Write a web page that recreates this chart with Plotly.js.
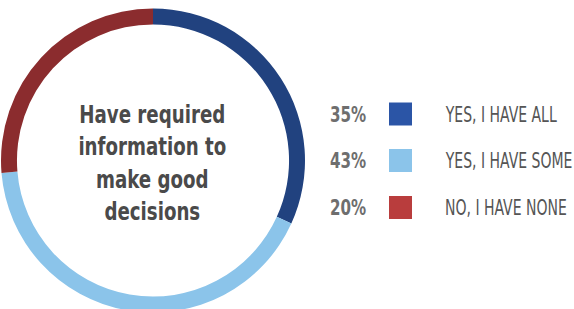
<!DOCTYPE html>
<html>
<head>
<meta charset="utf-8">
<script src="https://cdn.plot.ly/plotly-3.0.1.min.js"></script>
<style>
html,body{margin:0;padding:0;background:#fff;overflow:hidden;}
#chart{width:574px;height:313px;}
</style>
</head>
<body>
<div id="chart"></div>
<script>
// Categories and values
var categories = ["YES, I HAVE ALL", "YES, I HAVE SOME", "NO, I HAVE NONE"];
var percentLabels = ["35%", "43%", "20%"];
// Shares of the ring as drawn in the reference (arc sizes)
var ringShares = [31.8, 41.9, 26.3];
var ringColors = ["#21427f", "#8bc4ea", "#8b2c2e"];
var keyColors = ["#2b55a6", "#8bc4ea", "#b93d3d"];
var centerTitle = "Have required<br>information to<br>make good<br>decisions";

var W = 574, H = 313;
function px(x){ return x / W; }
function py(y){ return (H - y) / H; }

var cx = 153, cy = 160.5, R = 152;
var narrow = "Liberation Sans Narrow, DejaVu Sans Condensed, Arial Narrow, sans-serif";

var data = [{
  type: "pie",
  values: ringShares,
  labels: categories,
  marker: {colors: ringColors, line: {width: 0}},
  hole: 0.895,
  sort: false,
  direction: "clockwise",
  rotation: 0,
  textinfo: "none",
  hoverinfo: "none",
  showlegend: false,
  domain: {x: [px(cx - R), px(cx + R)], y: [py(cy + R), py(cy - R)]}
}];

var annotations = [{
  xref: "paper", yref: "paper", x: px(cx), y: py(cy + 3.5),
  xanchor: "center", yanchor: "middle", showarrow: false,
  text: "<b>" + centerTitle + "</b>",
  font: {family: narrow, size: 25, color: "#4a4a4a"}
}];
var squeeze = [0.81];
var anchors = ["center"];
var shapes = [];
var rowY = [114.5, 161, 208];
for (var i = 0; i < categories.length; i++) {
  annotations.push({
    xref: "paper", yref: "paper", x: px(328), y: py(rowY[i]),
    xanchor: "left", yanchor: "middle", showarrow: false,
    text: "<b>" + percentLabels[i] + "</b>",
    font: {family: narrow, size: 20.5, color: "#6e6e6e"}
  });
  squeeze.push(0.82); anchors.push("left");
  annotations.push({
    xref: "paper", yref: "paper", x: px(443), y: py(rowY[i]),
    xanchor: "left", yanchor: "middle", showarrow: false,
    text: categories[i],
    font: {family: narrow, size: 20.5, color: "#555555"}
  });
  squeeze.push(0.76); anchors.push("left");
  shapes.push({
    type: "rect", xref: "paper", yref: "paper",
    x0: px(389), x1: px(412), y0: py(rowY[i] - 0.5 + 11.5), y1: py(rowY[i] - 0.5 - 11.5),
    fillcolor: keyColors[i], line: {width: 0}
  });
}

var layout = {
  width: W, height: H,
  margin: {l: 0, r: 0, t: 0, b: 0},
  paper_bgcolor: "#ffffff",
  showlegend: false,
  annotations: annotations,
  shapes: shapes
};

function condenseText(gd) {
  var groups = gd.querySelectorAll("g.annotation");
  groups.forEach(function(g) {
    var idx = +g.getAttribute("data-index");
    var t = g.querySelector("text.annotation-text");
    if (!t || isNaN(idx) || t.getAttribute("data-squeezed")) return;
    var bb = t.getBBox();
    var a = anchors[idx] === "center" ? bb.x + bb.width / 2 : bb.x;
    var s = squeeze[idx];
    var prev = t.getAttribute("transform") || "";
    t.setAttribute("transform", prev + " translate(" + a + ",0) scale(" + s + ",1) translate(" + (-a) + ",0)");
    t.setAttribute("data-squeezed", "1");
  });
}

Plotly.newPlot("chart", data, layout, {displayModeBar: false, staticPlot: true}).then(function(gd) {
  condenseText(gd);
});
</script>
</body>
</html>
